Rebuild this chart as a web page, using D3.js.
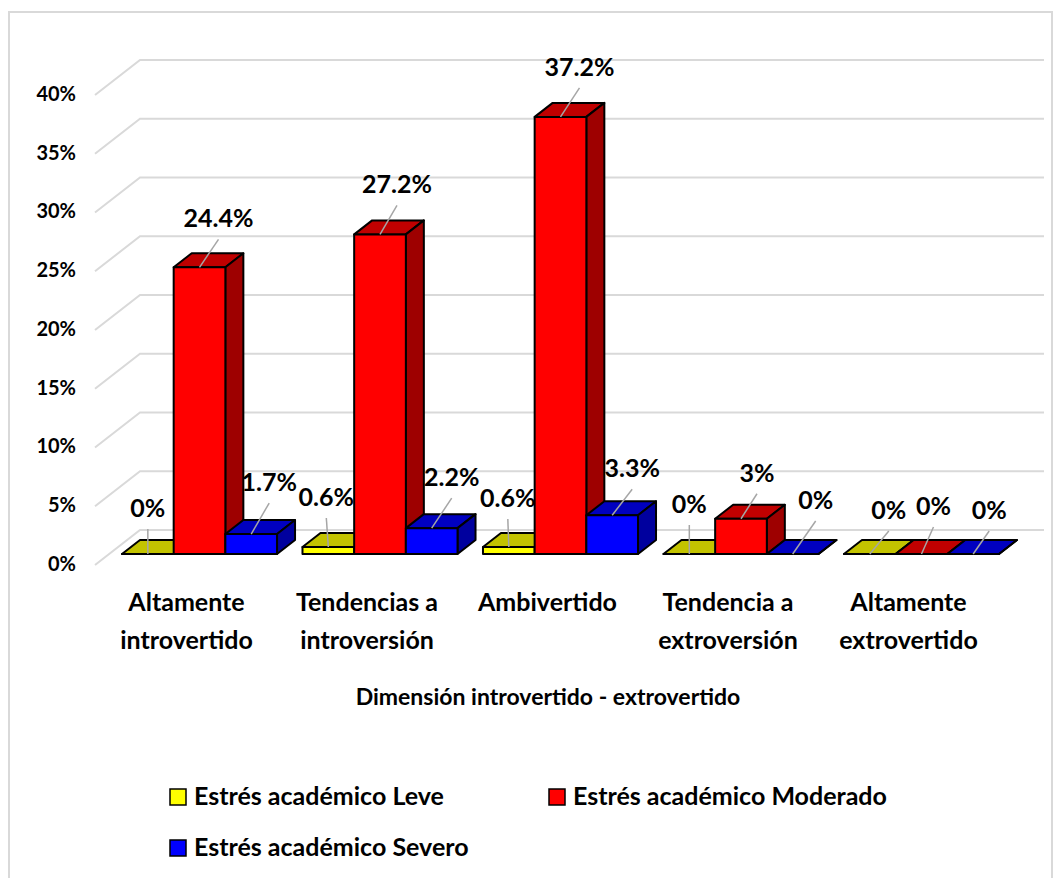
<!DOCTYPE html>
<html>
<head>
<meta charset="utf-8">
<script src="https://cdn.jsdelivr.net/npm/d3@7"></script>
<style>
  html, body { margin: 0; padding: 0; background: #fff; }
  svg { display: block; font-family: Lato, sans-serif; font-weight: 700; }
</style>
</head>
<body>
<svg width="1056" height="878"></svg>
<script>
// datos
const categories = ['Altamente introvertido', 'Tendencias a introversión', 'Ambivertido', 'Tendencia a extroversión', 'Altamente extrovertido'];
const categoryLines = [['Altamente', 'introvertido'], ['Tendencias a', 'introversión'], ['Ambivertido'], ['Tendencia a', 'extroversión'], ['Altamente', 'extrovertido']];
const seriesNames = ['Estrés académico Leve', 'Estrés académico Moderado', 'Estrés académico Severo'];
const leve = [0, 0.6, 0.6, 0, 0];
const moderado = [24.4, 27.2, 37.2, 3, 0];
const severo = [1.7, 2.2, 3.3, 0, 0];
const yTicks = [0, 5, 10, 15, 20, 25, 30, 35, 40];

const seriesValues = [leve, moderado, severo];

// estilo de cada serie: frente, tapa, lado
const seriesColors = [
  { front: '#ffff00', top: '#c3c300', side: '#a0a000' },
  { front: '#ff0000', top: '#c00000', side: '#9e0000' },
  { front: '#0000ff', top: '#0000c0', side: '#00009e' }
];

// punta de cada línea guía respecto a su base [dx, dy], por serie y categoría
const leaderOffsets = [
  [[0, -25], [-2, -29], [-1, -28], [0, -29], [19, -23]],
  [[19, -28], [17, -29], [19, -29], [16, -25], [12, -27]],
  [[18, -31], [20, -30], [20, -26], [23, -33], [16, -23]]
];

const svg = d3.select('svg');
const WIDTH = +svg.attr('width');

const DEPTH_X = 18;
const DEPTH_Y = 14;
const WALL_X = 45;
const WALL_Y = 24;
const FLOOR_Y = 11;

// escalas
const x0 = d3.scaleBand()
  .domain(categories)
  .range([109.25, 1011.75])
  .paddingInner(0.141)
  .paddingOuter(0.0706);

const x1 = d3.scaleBand()
  .domain(d3.range(seriesValues.length))
  .range([0, x0.bandwidth()]);

const y = d3.scaleLinear()
  .domain([0, 40])
  .range([554, 84]);

// marco
svg.append('rect')
  .attr('x', 9)
  .attr('y', 12)
  .attr('width', 1043)
  .attr('height', 900)
  .attr('fill', 'none')
  .attr('stroke', '#d9d9d9')
  .attr('stroke-width', 2);

//-----------------------rejilla-----------------------//
const grid = svg.append('g')
  .attr('fill', 'none')
  .attr('stroke', '#d9d9d9')
  .attr('stroke-width', 2);

grid.selectAll('path')
  .data(yTicks)
  .join('path')
  .attr('d', d => {
    const p = d3.path();
    const yy = y(d);
    p.moveTo(95, yy + FLOOR_Y);
    p.lineTo(95 + WALL_X, yy - WALL_Y);
    if (d > 0) p.lineTo(1044, yy - WALL_Y);
    else p.lineTo(1044, yy - WALL_Y);
    return p.toString();
  });

//-----------------------eje y-----------------------//
const yAxis = svg.append('g')
  .attr('transform', 'translate(86, 10)')
  .call(d3.axisLeft(y).tickValues(yTicks).tickFormat(d => `${d}%`).tickSize(0).tickPadding(10));
yAxis.select('.domain').remove();
yAxis.selectAll('text')
  .attr('font-family', 'Lato, sans-serif')
  .attr('font-size', 20)
  .attr('font-weight', 700)
  .attr('fill', '#000');

//-----------------------barras-----------------------//
const poly = pts => d3.line()(pts) + 'Z';

const bars = [];
seriesValues.forEach((values, s) => {
  values.forEach((v, c) => {
    bars.push({ s, c, v });
  });
});

const barGroup = svg.append('g')
  .attr('stroke', '#000')
  .attr('stroke-width', 2)
  .attr('stroke-linejoin', 'round');

// se dibuja por categoría y de izquierda a derecha para que tapen bien
categories.forEach((cat, c) => {
  seriesValues.forEach((values, s) => {
    const left = x0(cat) + x1(s);
    const right = left + x1.bandwidth();
    const top = y(values[c]);
    const base = y(0);
    const colors = seriesColors[s];
    const g = barGroup.append('g');
    g.append('path')
      .attr('fill', colors.top)
      .attr('d', poly([[left, top], [left + DEPTH_X, top - DEPTH_Y], [right + DEPTH_X, top - DEPTH_Y], [right, top]]));
    g.append('path')
      .attr('fill', colors.side)
      .attr('d', poly([[right, top], [right + DEPTH_X, top - DEPTH_Y], [right + DEPTH_X, base - DEPTH_Y], [right, base]]));
    g.append('path')
      .attr('fill', colors.front)
      .attr('d', poly([[left, top], [right, top], [right, base], [left, base]]));
  });
});

//-----------------------etiquetas-----------------------//
const labelGroup = svg.append('g');

bars.forEach(d => {
  const baseX = x0(categories[d.c]) + x1(d.s) + x1.bandwidth() / 2;
  const baseY = y(d.v);
  const off = leaderOffsets[d.s][d.c];
  labelGroup.append('line')
    .attr('x1', baseX)
    .attr('y1', baseY)
    .attr('x2', baseX + off[0])
    .attr('y2', baseY + off[1])
    .attr('stroke', '#a6a6a6')
    .attr('stroke-width', 1.5);
  labelGroup.append('text')
    .attr('x', baseX + off[0])
    .attr('y', baseY + off[1] - 12)
    .attr('text-anchor', 'middle')
    .attr('font-size', 25)
    .attr('fill', '#000')
    .text(`${d.v}%`);
});

//-----------------------categorías-----------------------//
const catLabels = svg.append('g')
  .attr('font-size', 25)
  .attr('fill', '#000')
  .attr('text-anchor', 'middle');

categories.forEach((cat, i) => {
  const cx = x0(cat) + x0.bandwidth() / 2 - 13;
  categoryLines[i].forEach((line, j) => {
    catLabels.append('text')
      .attr('x', cx)
      .attr('y', 611 + j * 38)
      .text(line);
  });
});

// título del eje
svg.append('text')
  .attr('x', 548)
  .attr('y', 705)
  .attr('text-anchor', 'middle')
  .attr('font-size', 23)
  .attr('fill', '#000')
  .text('Dimensión introvertido - extrovertido');

//-----------------------leyenda-----------------------//
const legendX = [170, 549, 170];
const legendY = [789, 789, 840];
const legend = svg.append('g');

seriesNames.forEach((name, i) => {
  legend.append('rect')
    .attr('x', legendX[i])
    .attr('y', legendY[i])
    .attr('width', 16)
    .attr('height', 16)
    .attr('fill', seriesColors[i].front)
    .attr('stroke', '#000')
    .attr('stroke-width', 1.5);
  legend.append('text')
    .attr('x', legendX[i] + 24)
    .attr('y', legendY[i] + 16)
    .attr('font-size', 25)
    .attr('fill', '#000')
    .text(name);
});
</script>
</body>
</html>
